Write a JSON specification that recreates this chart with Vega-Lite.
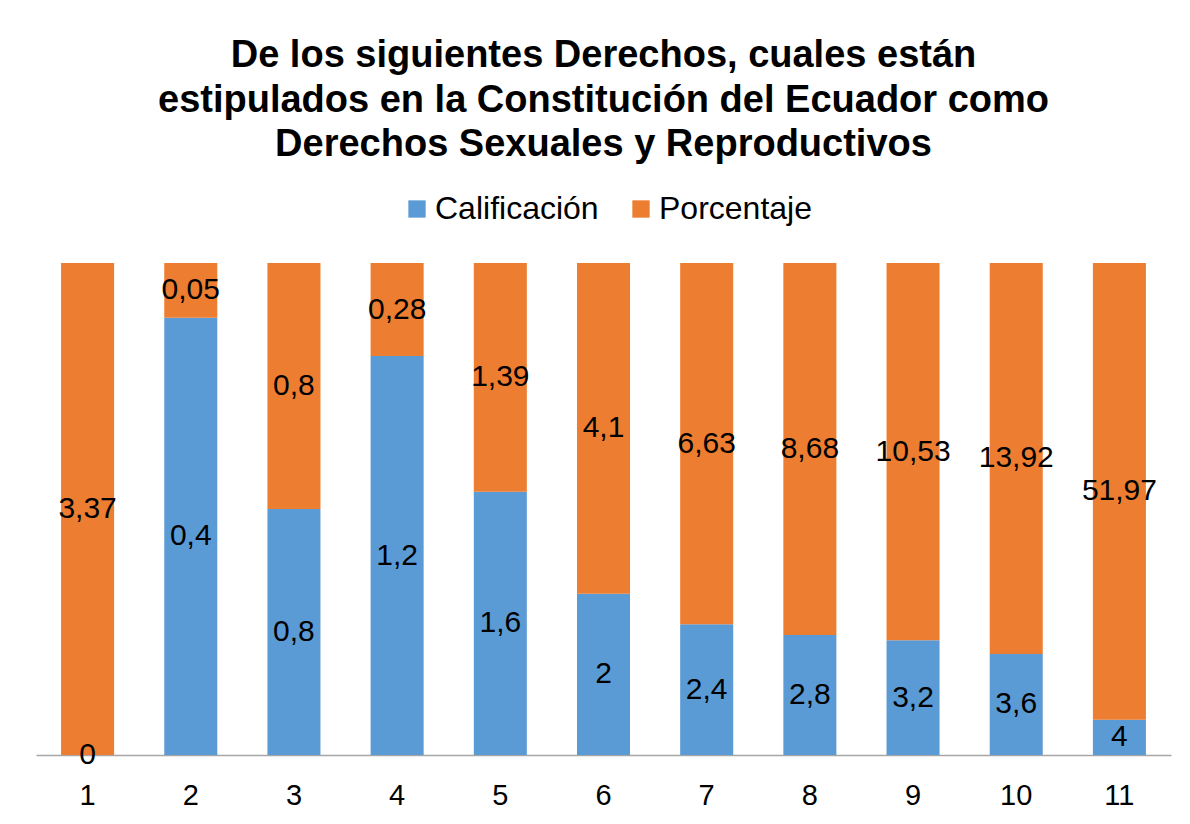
{
  "$schema": "https://vega.github.io/schema/vega-lite/v6.json",
  "width": 1135,
  "height": 492,
  "autosize": {"type": "none"},
  "padding": {"left": 36, "top": 263, "right": 19, "bottom": 69},
  "background": "white",
  "title": {
    "text": ["De los siguientes Derechos, cuales están", "estipulados en la Constitución del Ecuador como", "Derechos Sexuales y Reproductivos"],
    "font": "Liberation Sans",
    "fontSize": 38,
    "fontWeight": "bold",
    "color": "#000000",
    "anchor": "middle",
    "frame": "group",
    "baseline": "bottom",
    "lineHeight": 44.5,
    "offset": -9
  },
  "data": {
    "values": [
      {"n": 1, "serie": "Calificación", "valor": 0},
      {"n": 2, "serie": "Calificación", "valor": 0.4},
      {"n": 3, "serie": "Calificación", "valor": 0.8},
      {"n": 4, "serie": "Calificación", "valor": 1.2},
      {"n": 5, "serie": "Calificación", "valor": 1.6},
      {"n": 6, "serie": "Calificación", "valor": 2},
      {"n": 7, "serie": "Calificación", "valor": 2.4},
      {"n": 8, "serie": "Calificación", "valor": 2.8},
      {"n": 9, "serie": "Calificación", "valor": 3.2},
      {"n": 10, "serie": "Calificación", "valor": 3.6},
      {"n": 11, "serie": "Calificación", "valor": 4},
      {"n": 1, "serie": "Porcentaje", "valor": 3.37},
      {"n": 2, "serie": "Porcentaje", "valor": 0.05},
      {"n": 3, "serie": "Porcentaje", "valor": 0.8},
      {"n": 4, "serie": "Porcentaje", "valor": 0.28},
      {"n": 5, "serie": "Porcentaje", "valor": 1.39},
      {"n": 6, "serie": "Porcentaje", "valor": 4.1},
      {"n": 7, "serie": "Porcentaje", "valor": 6.63},
      {"n": 8, "serie": "Porcentaje", "valor": 8.68},
      {"n": 9, "serie": "Porcentaje", "valor": 10.53},
      {"n": 10, "serie": "Porcentaje", "valor": 13.92},
      {"n": 11, "serie": "Porcentaje", "valor": 51.97}
    ]
  },
  "encoding": {
    "x": {
      "field": "n",
      "type": "ordinal",
      "scale": {"paddingInner": 0.486, "paddingOuter": 0.243},
      "axis": {
        "title": null,
        "labelAngle": 0,
        "labelFont": "Liberation Sans",
        "labelFontSize": 29,
        "labelColor": "#000000",
        "labelPadding": 26,
        "ticks": false,
        "domainColor": "#a6a6a6",
        "domainWidth": 1.5,
        "grid": false
      }
    },
    "order": {"field": "serie", "sort": "ascending"}
  },
  "layer": [
    {
      "mark": {"type": "bar"},
      "encoding": {
        "y": {"field": "valor", "type": "quantitative", "stack": "normalize", "axis": null},
        "color": {
          "field": "serie",
          "type": "nominal",
          "scale": {"domain": ["Calificación", "Porcentaje"], "range": ["#5b9bd5", "#ed7d31"]},
          "legend": {
            "title": null,
            "orient": "none",
            "direction": "horizontal",
            "legendX": 365,
            "legendY": -70,
            "padding": 0,
            "symbolType": "square",
            "symbolSize": 300,
            "symbolStrokeWidth": 0,
            "labelFont": "Liberation Sans",
            "labelFontSize": 32,
            "labelColor": "#000000",
            "labelOffset": 2,
            "columnPadding": 26,
            "labelLimit": 400
          }
        }
      }
    },
    {
      "mark": {"type": "text", "font": "Liberation Sans", "fontSize": 30, "color": "#000000", "baseline": "middle"},
      "encoding": {
        "y": {"field": "valor", "type": "quantitative", "stack": "normalize", "bandPosition": 0.5},
        "detail": {"field": "serie", "type": "nominal"},
        "text": {"field": "valor", "type": "quantitative", "format": "~g"}
      }
    }
  ],
  "config": {
    "view": {"stroke": null},
    "locale": {"number": {"decimal": ",", "thousands": ".", "grouping": [3], "currency": ["", " €"]}}
  }
}
